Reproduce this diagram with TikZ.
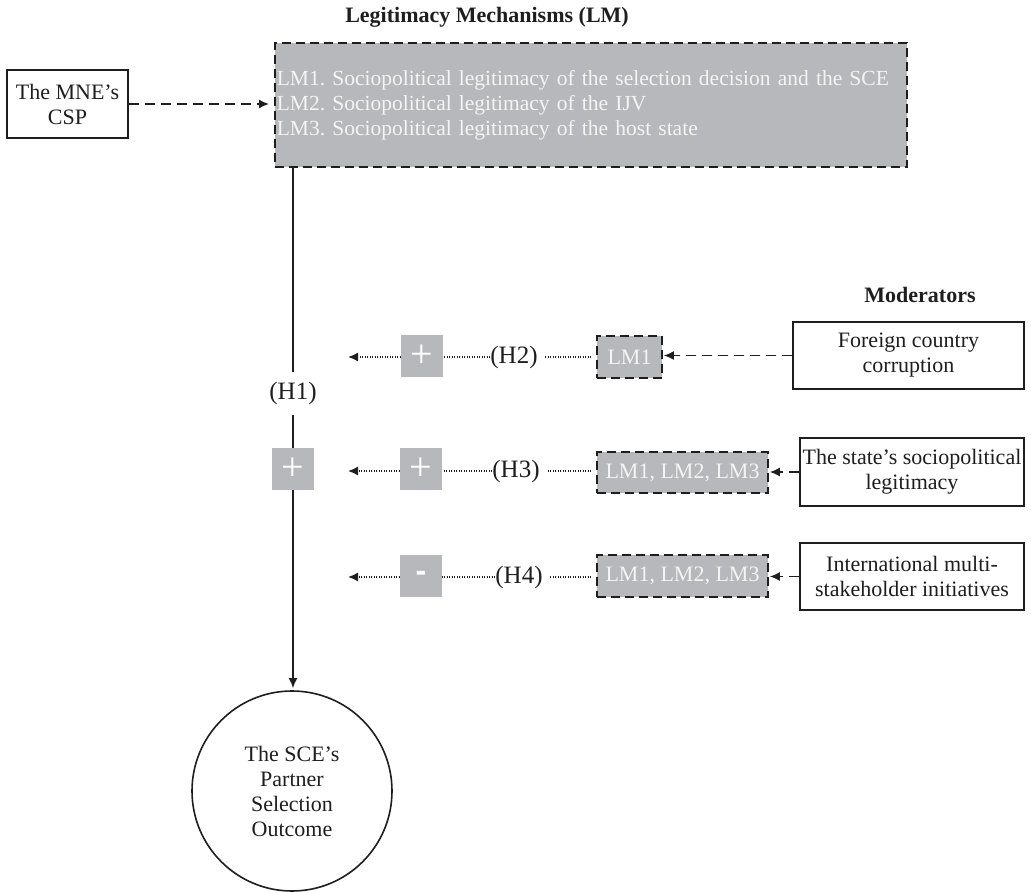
\documentclass[tikz,border=0pt]{standalone}
\usepackage{fontspec}
\setmainfont{Liberation Serif}
\newfontfamily\signfont{Liberation Sans}
\usetikzlibrary{arrows.meta}
\definecolor{boxgray}{RGB}{183,184,188}
\definecolor{boxtext}{RGB}{244,244,244}
\definecolor{ink}{RGB}{30,30,30}
\tikzset{
  every node/.style={font=\fontsize{22}{25}\selectfont, text=ink},
  titletext/.style={font=\fontsize{22}{25}\selectfont\bfseries, inner sep=0pt},
  whitebox/.style={draw=ink, line width=1.5pt, fill=white, align=center, inner sep=0pt},
  graybox/.style={draw=ink, line width=1.6pt, dash pattern=on 9pt off 5pt, fill=boxgray, text=boxtext, inner sep=0pt, align=center},
  signbox/.style={fill=boxgray, text=white, minimum width=42pt, minimum height=42pt, inner sep=0pt},
  plusfont/.style={font=\fontsize{40}{40}\selectfont},
  hlabel/.style={font=\fontsize{25}{28}\selectfont, inner sep=0pt},
  tip/.style={-{Latex[length=10pt,width=9pt]}},
  dashedarrow/.style={draw=ink, line width=1.6pt, dash pattern=on 10pt off 6pt, tip},
  dottedarrow/.style={draw=ink, line width=1.5pt, dash pattern=on 1.2pt off 1.3pt},
  solidline/.style={draw=ink, line width=1.6pt},
}
\begin{document}
\frenchspacing
\begin{tikzpicture}[x=1pt,y=-1pt]
\useasboundingbox (0,0) rectangle (1031,893);

% titles
\node[titletext] (lmtitle) at (487,17) {Legitimacy Mechanisms (LM)};
\node[titletext] (modtitle) at (920,295) {Moderators};

% LM box
\node[graybox, anchor=north west, text width=628pt, inner xsep=2pt, minimum height=124pt, align=left,
      font=\fontsize{21.5}{25}\selectfont] (lm) at (274,42)
  {LM1. Sociopolitical legitimacy of the selection decision and the SCE\\
   LM2. Sociopolitical legitimacy of the IJV\\
   LM3. Sociopolitical legitimacy of the host state};

% MNE CSP
\node[whitebox, minimum width=121pt, minimum height=68pt] (mne) at (67.5,104) {The MNE’s\\CSP};
\draw[dashedarrow, shorten >=5pt] (mne.east) -- (lm.west |- mne.east);

% main chain
\node[hlabel, minimum height=43pt] (h1) at (293,393.5) {(H1)};
\node[signbox, plusfont] (p1) at (293,469) {+};
\node[draw=ink, line width=1.6pt, circle, minimum size=200pt, inner sep=0pt, align=center] (out) at (292,791)
  {The SCE’s\\Partner\\Selection\\Outcome};
\draw[solidline] (h1 |- lm.south) -- (h1.north);
\draw[solidline] (h1.south) -- (p1.north);
\draw[solidline, tip, shorten >=2pt] (p1.south) -- (p1.south |- out.north);

% row H2
\coordinate (e2) at (348,357);
\node[signbox, plusfont] (p2) at (422,356) {+};
\node[hlabel] (h2) at (514,357) {(H2)};
\node[graybox, minimum width=65pt, minimum height=42pt] (lm1) at (629.5,357) {LM1};
\node[whitebox, minimum width=231pt, minimum height=67pt] (m1) at (908.5,355.5) {Foreign country\\corruption};
\draw[dottedarrow, shorten <=5pt, shorten >=7pt] (lm1.west) -- (h2.east);
\draw[dottedarrow] (h2.west) -- (p2.east |- h2.west);
\draw[dottedarrow, tip] (p2.west |- e2) -- (e2);
\draw[dashedarrow, shorten >=1pt] (m1.west) -- (lm1.east |- m1.west);

% row H3
\coordinate (e3) at (348,471);
\node[signbox, plusfont] (p3) at (421,469) {+};
\node[hlabel] (h3) at (516,471) {(H3)};
\node[graybox, minimum width=171pt, minimum height=41pt] (lm2) at (682.5,472.5) {LM1, LM2, LM3};
\node[whitebox, minimum width=224pt, minimum height=68pt] (m2) at (912,472) {The state’s sociopolitical\\legitimacy};
\draw[dottedarrow, shorten <=5pt, shorten >=7pt] (lm2.west |- h3.east) -- (h3.east);
\draw[dottedarrow] (h3.west) -- (p3.east |- h3.west);
\draw[dottedarrow, tip] (p3.west |- e3) -- (e3);
\draw[dashedarrow, shorten >=1pt] (m2.west) -- (lm2.east |- m2.west);

% row H4
\coordinate (e4) at (348,577);
\node[signbox, font=\fontsize{32}{32}\selectfont\signfont\bfseries] (p4) at (421,576) {\raisebox{-4pt}{-}};
\node[hlabel] (h4) at (519,577) {(H4)};
\node[graybox, minimum width=171pt, minimum height=42pt] (lm3) at (682.5,576) {LM1, LM2, LM3};
\node[whitebox, minimum width=224pt, minimum height=67pt] (m3) at (912,576.5) {International multi-\\stakeholder initiatives};
\draw[dottedarrow, shorten <=5pt, shorten >=7pt] (lm3.west |- h4.east) -- (h4.east);
\draw[dottedarrow] (h4.west) -- (p4.east |- h4.west);
\draw[dottedarrow, tip] (p4.west |- e4) -- (e4);
\draw[dashedarrow, shorten >=1pt] (m3.west) -- (lm3.east |- m3.west);
\end{tikzpicture}
\end{document}
